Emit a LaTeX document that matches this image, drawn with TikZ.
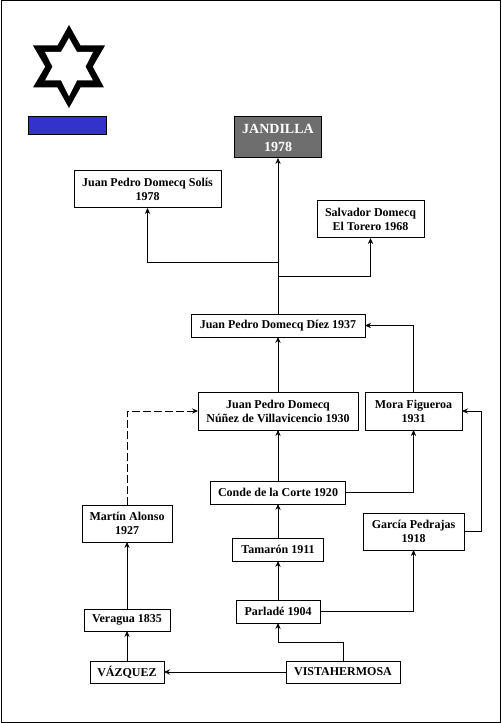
\documentclass[tikz,border=0pt]{standalone}
\usepackage{fontspec}
\setmainfont{Liberation Serif}
\usetikzlibrary{positioning, arrows.meta}
\definecolor{flagblue}{HTML}{3333CC}
\definecolor{boxgray}{HTML}{6E6E6E}
\tikzset{
  lineage/.style={
    draw=black, fill=white, line width=0.75pt, inner sep=0pt, outer sep=0pt,
    align=center, font=\fontsize{9}{10.5}\selectfont\bfseries
  },
  arrow/.style={-{Stealth[length=4.5pt,width=4pt]}, line width=0.75pt}
}

\begin{document}
\begin{tikzpicture}[x=0.75pt, y=-0.75pt,
  result/.style={lineage, fill=boxgray, text=white, font=\fontsize{10.5}{13.5}\selectfont\bfseries}
]
\useasboundingbox (0,0) rectangle (501,723);
\node[draw=black, line width=0.75pt, minimum width=374.25pt, minimum height=540.75pt, inner sep=0pt] (frame) at (250.5,361.5) {};

%% star and colour
\fill[black] (69,25) -- (80.5,45.5) -- (105,45.5) -- (92.7,66.7) -- (104,87.5) -- (80.5,87.5) -- (69,108) -- (57.5,87.5) -- (33,87.5) -- (45.3,66.7) -- (33,45.5) -- (57.5,45.5) -- cycle;
\fill[white] (69,38) -- (77,52) -- (93,52) -- (85.5,66.7) -- (93,80.5) -- (77,80.5) -- (69,96.5) -- (61,80.5) -- (45,80.5) -- (52.5,66.7) -- (45,52) -- (61,52) -- cycle;
\node[lineage, fill=flagblue, minimum width=58.5pt, minimum height=13.5pt] (flag) at (67.25,126) {};

%% main line
\node[lineage, minimum width=63pt, minimum height=17.25pt] (parlade) at (278,611.5) {Parladé 1904};
\node[lineage, minimum width=68.25pt, minimum height=17.25pt, above=29.25pt of parlade] (tamaron) {Tamarón 1911};
\node[lineage, minimum width=101.25pt, minimum height=17.25pt, above=25.5pt of tamaron] (conde) {Conde de la Corte 1920};
\node[lineage, minimum width=120pt, minimum height=28.5pt, above=38.25pt of conde] (nunez) {Juan Pedro Domecq\\Núñez de Villavicencio 1930};
\node[lineage, minimum width=130.5pt, minimum height=17.25pt, above=41.25pt of nunez] (diez) {Juan Pedro Domecq Díez 1937};
\node[result, minimum width=65.25pt, minimum height=30.75pt, above=117pt of diez] (jandilla) {JANDILLA\\1978};

%% side branches
\node[lineage, minimum width=110.25pt, minimum height=27.75pt] (solis) at (147.5,189.5) {Juan Pedro Domecq Solís\\1978};
\node[lineage, minimum width=80.25pt, minimum height=27.75pt] (salvador) at (370.5,219.5) {Salvador Domecq\\El Torero 1968};
\node[lineage, minimum width=72.75pt, minimum height=28.5pt] (mora) at (413.5,411) {Mora Figueroa\\1931};
\node[lineage, minimum width=75.75pt, minimum height=27.75pt, below=62.25pt of mora] (garcia) {García Pedrajas\\1918};

%% left line
\node[lineage, minimum width=85.5pt, minimum height=16.5pt] (vista) at (343,672) {VISTAHERMOSA};
\node[lineage, minimum width=55.5pt, minimum height=16.5pt] (vazquez) at (127,672) {VÁZQUEZ};
\node[lineage, minimum width=64.5pt, minimum height=16.5pt, above=22.5pt of vazquez] (veragua) {Veragua 1835};
\node[lineage, minimum width=67.5pt, minimum height=27.75pt, above=50.25pt of veragua] (martin) {Martín Alonso\\1927};

%% connectors
\draw[arrow] (vista.west) -- (vazquez.east);
\draw[arrow] (vazquez.north) -- (veragua.south);
\draw[arrow] (veragua.north) -- (martin.south);
\draw[arrow, dash pattern=on 6pt off 2.25pt] (martin.north) |- (nunez.west);

\draw[arrow] (vista.north) -- ++(0,-18.5) -| (parlade.south);
\draw[arrow] (parlade.north) -- (tamaron.south);
\draw[arrow] (tamaron.north) -- (conde.south);
\draw[arrow] (conde.north) -- (nunez.south);
\draw[arrow] (nunez.north) -- (diez.south);
\draw[arrow] (diez.north) -- (jandilla.south);

\draw[arrow] (parlade.east) -| (garcia.south);
\draw[arrow] (conde.east) -| (mora.south);
\draw[arrow] (garcia.east) -- ++(17,0) |- (mora.east);
\draw[arrow] (mora.north) |- (diez.east);

% forks under the top box
\draw[arrow] (diez.north) -- ++(0,-52) -| (solis.south);
\draw[arrow] (diez.north) -- ++(0,-38) -| (salvador.south);

\end{tikzpicture}
\end{document}
